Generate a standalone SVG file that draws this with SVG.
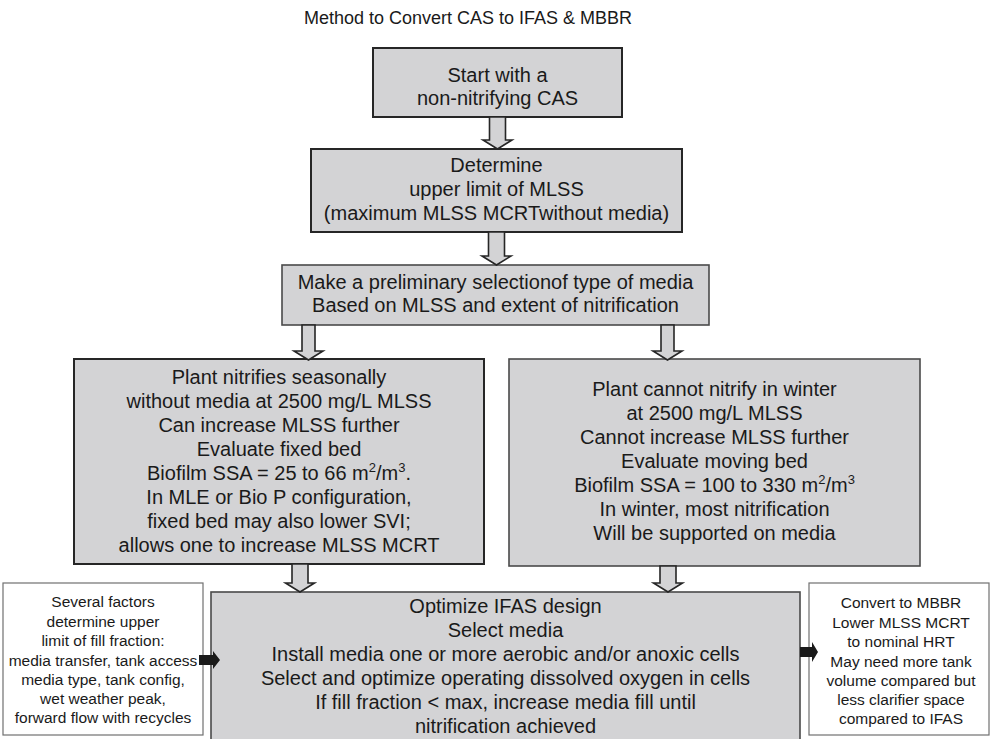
<svg xmlns="http://www.w3.org/2000/svg" width="990" height="739" viewBox="0 0 990 739">
  <style>
    text { font-family: "Liberation Sans", Arial, sans-serif; fill: #1a1a1a; text-anchor: middle; }
    .t { font-size: 20px; }
    .n { font-size: 15.5px; }
    .title { font-size: 18px; }
    .box { fill: #d3d3d5; stroke: #262626; stroke-width: 2; }
    .box2 { fill: #d3d3d5; stroke: #4a4a4a; stroke-width: 1.6; }
    .note { fill: #ffffff; stroke: #707070; stroke-width: 1.2; }
    .hollow { fill: #d3d3d5; stroke: #262626; stroke-width: 1.6; stroke-linejoin: miter; }
    .solid { fill: #1a1a1a; stroke: none; }
  </style>

  <text class="title" x="468" y="24">Method to Convert CAS to IFAS &amp; MBBR</text>

  <g id="start">
    <rect class="box" x="373" y="48" width="249" height="69"/>
    <text class="t" x="497.5" y="82">Start with a</text>
    <text class="t" x="497.5" y="105">non-nitrifying CAS</text>
  </g>

  <g id="determine">
    <rect class="box" x="311" y="149" width="371" height="83"/>
    <text class="t" x="496.5" y="172">Determine</text>
    <text class="t" x="496.5" y="196">upper limit of MLSS</text>
    <text class="t" x="496.5" y="219.5">(maximum MLSS MCRTwithout media)</text>
  </g>

  <g id="select-media-type">
    <rect class="box2" x="282" y="265" width="427" height="60"/>
    <text class="t" x="495.5" y="289">Make a preliminary selectionof type of media</text>
    <text class="t" x="495.5" y="312">Based on MLSS and extent of nitrification</text>
  </g>

  <g id="fixed-bed">
    <rect class="box" x="74" y="359" width="410" height="205"/>
    <text class="t" x="279" y="384">Plant nitrifies seasonally</text>
    <text class="t" x="279" y="408">without media at 2500 mg/L MLSS</text>
    <text class="t" x="279" y="432">Can increase MLSS further</text>
    <text class="t" x="279" y="456">Evaluate fixed bed</text>
    <text class="t" x="279" y="480">Biofilm SSA = 25 to 66 m<tspan font-size="13" dy="-8">2</tspan><tspan dy="8">/m</tspan><tspan font-size="13" dy="-8">3</tspan><tspan dy="8">.</tspan></text>
    <text class="t" x="279" y="504">In MLE or Bio P configuration,</text>
    <text class="t" x="279" y="528">fixed bed may also lower SVI;</text>
    <text class="t" x="279" y="552">allows one to increase MLSS MCRT</text>
  </g>

  <g id="moving-bed">
    <rect class="box2" x="509" y="359" width="411" height="207"/>
    <text class="t" x="714.5" y="396">Plant cannot nitrify in winter</text>
    <text class="t" x="714.5" y="420">at 2500 mg/L MLSS</text>
    <text class="t" x="714.5" y="444">Cannot increase MLSS further</text>
    <text class="t" x="714.5" y="468">Evaluate moving bed</text>
    <text class="t" x="714.5" y="492">Biofilm SSA = 100 to 330 m<tspan font-size="13" dy="-8">2</tspan><tspan dy="8">/m</tspan><tspan font-size="13" dy="-8">3</tspan></text>
    <text class="t" x="714.5" y="516">In winter, most nitrification</text>
    <text class="t" x="714.5" y="540">Will be supported on media</text>
  </g>

  <g id="optimize-ifas">
    <rect class="box2" x="211" y="592" width="589" height="160"/>
    <text class="t" x="505.5" y="613">Optimize IFAS design</text>
    <text class="t" x="505.5" y="637">Select media</text>
    <text class="t" x="505.5" y="661">Install media one or more aerobic and/or anoxic cells</text>
    <text class="t" x="505.5" y="685">Select and optimize operating dissolved oxygen in cells</text>
    <text class="t" x="505.5" y="709">If fill fraction &lt; max, increase media fill until</text>
    <text class="t" x="505.5" y="733">nitrification achieved</text>
  </g>

  <g id="fill-factors">
    <rect class="note" x="3" y="583" width="200" height="152"/>
    <text class="n" x="103" y="607">Several factors</text>
    <text class="n" x="103" y="626.5">determine upper</text>
    <text class="n" x="103" y="646">limit of fill fraction:</text>
    <text class="n" x="103" y="665.5">media transfer, tank access</text>
    <text class="n" x="103" y="685">media type, tank config,</text>
    <text class="n" x="103" y="704">wet weather peak,</text>
    <text class="n" x="103" y="723">forward flow with recycles</text>
  </g>

  <g id="convert-mbbr">
    <rect class="note" x="809" y="583" width="180" height="152"/>
    <text class="n" x="901" y="608">Convert to MBBR</text>
    <text class="n" x="901" y="627.5">Lower MLSS MCRT</text>
    <text class="n" x="901" y="647">to nominal HRT</text>
    <text class="n" x="901" y="666.5">May need more tank</text>
    <text class="n" x="901" y="686">volume compared but</text>
    <text class="n" x="901" y="705">less clarifier space</text>
    <text class="n" x="901" y="724">compared to IFAS</text>
  </g>

  <g id="connectors">
    <!-- hollow block arrows between steps -->
    <path class="hollow" d="M489.5 117 V140 H483 L497.5 149 L512 140 H505.5 V117 Z"/>
    <path class="hollow" d="M488.5 232 V256 H482 L496.5 265 L511 256 H504.5 V232 Z"/>
    <path class="hollow" d="M302 325 V351 H294 L308.5 360 L323 351 H315 V325 Z"/>
    <path class="hollow" d="M661 325 V351 H653 L667.5 360 L682 351 H674 V325 Z"/>
    <path class="hollow" d="M292 564 V583 H285.5 L300 592 L314.5 583 H308 V564 Z"/>
    <path class="hollow" d="M660 566 V583 H653.5 L668 592 L682.5 583 H676 V566 Z"/>
    <!-- solid side arrows -->
    <path class="solid" d="M199 655 H213 V651 L220 660 L213 669 V665 H199 Z"/>
    <path class="solid" d="M800 647 H812 V642 L818 652 L812 662 V657 H800 Z"/>
  </g>
</svg>
